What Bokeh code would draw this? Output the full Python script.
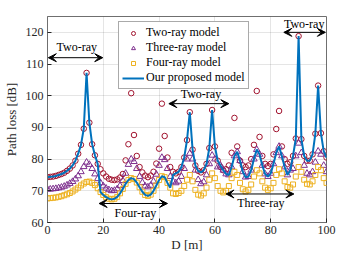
from bokeh.plotting import figure
from bokeh.models import (Legend, LegendItem, Arrow, VeeHead, Label,
                          FixedTicker, Range1d)
from bokeh.embed import file_html
from bokeh.resources import INLINE

# ---------------- data ----------------
D = list(range(0, 101))

two_ray = [74.3, 74.4, 74.5, 74.7, 75.0, 75.3, 75.7, 76.3, 77.0, 78.0,
           79.5, 81.7, 84.5, 89.6, 107.2, 91.5, 84.7, 81.2, 78.5, 76.8,
           75.5, 74.5, 73.8, 73.5, 73.4, 73.6, 74.2, 75.3, 79.6, 84.7,
           100.8, 87.6, 81.0, 77.5, 75.8, 74.8, 74.3, 74.8, 76.0, 78.6,
           83.3, 97.5, 87.3, 80.5, 77.5, 76.0, 75.5, 76.0, 77.5, 80.5,
           86.0, 94.8, 83.0, 78.0, 76.3, 75.8, 76.5, 78.5, 83.5, 95.5,
           84.0, 79.5, 77.5, 76.5, 76.8, 78.0, 82.0, 93.0, 84.0, 79.5,
           78.0, 77.5, 78.0, 80.0, 84.5, 101.5, 87.0, 81.0, 78.5, 77.8,
           78.5, 81.5, 89.5, 95.2, 84.0, 80.0, 78.5, 79.0, 81.0, 86.5,
           118.8, 86.3, 81.0, 79.5, 79.5, 81.5, 88.0, 103.2, 88.2, 82.5,
           80.5]

three_ray = [70.5, 70.5, 70.6, 70.7, 70.9, 71.1, 71.4, 71.8, 72.3, 72.9,
             73.7, 74.7, 76.0, 77.6, 79.0, 78.3, 77.0, 75.3, 73.8, 72.5,
             71.5, 70.8, 70.3, 70.0, 70.1, 70.6, 71.6, 73.2, 75.5, 78.3,
             80.0, 79.2, 77.0, 74.5, 72.6, 71.5, 71.2, 71.7, 73.0, 75.2,
             78.0, 80.5, 79.8, 77.0, 74.5, 73.0, 72.5, 73.0, 74.5, 77.0,
             80.0, 81.8, 80.0, 76.5, 73.5, 72.2, 72.8, 75.0, 78.5, 81.2,
             80.0, 77.5, 78.0, 76.5, 75.3, 75.0, 77.5, 81.0, 82.3, 79.5,
             76.0, 74.3, 74.5, 76.5, 80.0, 83.0, 81.5, 78.0, 75.3, 74.5,
             75.5, 78.5, 82.0, 84.0, 81.0, 77.5, 75.0, 76.5, 77.0, 81.0,
             85.0, 82.0, 78.0, 75.5, 75.0, 76.0, 79.0, 82.5, 81.5, 78.0,
             76.0]

four_ray = [67.6, 67.7, 67.8, 67.9, 68.1, 68.3, 68.6, 68.9, 69.3, 69.8,
            70.4, 71.0, 71.7, 72.3, 72.8, 72.9, 72.5, 71.8, 70.8, 69.6,
            68.7, 68.0, 67.5, 67.3, 67.5, 68.1, 69.2, 70.6, 72.2, 73.4,
            74.0, 73.7, 72.6, 71.1, 69.7, 68.7, 68.4, 68.8, 70.0, 71.7,
            73.4, 74.6, 74.3, 72.5, 71.0, 69.2, 69.0, 69.3, 70.0, 71.5,
            73.5, 75.0, 73.0, 70.3, 68.8, 68.5, 69.2, 71.0, 73.5, 75.5,
            74.0, 71.5, 70.0, 69.5, 70.0, 71.5, 74.0, 76.0, 75.0, 72.5,
            70.5, 69.8, 70.3, 72.0, 74.5, 76.5, 75.5, 73.0, 71.0, 70.3,
            70.8, 72.5, 75.0, 76.8, 75.5, 73.0, 71.2, 71.0, 72.0, 74.5,
            77.5, 76.0, 73.5, 72.2, 72.0, 73.0, 75.0, 77.5, 76.5, 74.0,
            72.5]

proposed = [74.3, 74.4, 74.5, 74.7, 75.0, 75.3, 75.7, 76.3, 77.0, 78.0,
            79.5, 81.7, 84.5, 89.6, 107.2, 91.5, 84.7, 81.2, 78.5, 69.6,
            68.7, 68.0, 67.5, 67.3, 67.5, 68.1, 69.2, 70.6, 72.2, 73.4,
            74.0, 73.7, 72.6, 71.1, 69.7, 68.7, 68.4, 68.8, 70.0, 71.7,
            73.4, 74.6, 74.3, 72.5, 71.0, 75.0, 75.5, 76.0, 77.5, 80.5,
            86.0, 94.8, 83.0, 78.0, 76.3, 75.8, 76.5, 78.5, 83.5, 95.5,
            84.0, 79.5, 78.0, 76.5, 75.3, 75.0, 77.5, 81.0, 82.3, 79.5,
            76.0, 74.3, 74.5, 76.5, 80.0, 83.0, 81.5, 78.0, 75.3, 74.5,
            75.5, 78.5, 82.0, 84.0, 81.0, 77.5, 75.0, 76.5, 81.0, 86.5,
            118.8, 86.3, 81.0, 79.5, 79.5, 81.5, 88.0, 103.2, 88.2, 82.5,
            80.5]

x_ticks = [0, 20, 40, 60, 80, 100]
y_ticks = [60, 70, 80, 90, 100, 110, 120]

# region annotations: (text, x_start, x_end, arrow_y, text_x, text_y)
regions = [
    ("Two-ray", 0.3, 19.8, 112.0, 10.5, 115.5),
    ("Four-ray", 18.5, 43.0, 66.0, 31.5, 63.0),
    ("Two-ray", 43.5, 65.0, 97.5, 55.0, 100.5),
    ("Three-ray", 64.0, 88.3, 69.0, 76.5, 66.0),
    ("Two-ray", 84.7, 99.6, 120.0, 92.0, 122.6),
]

FONT = "Liberation Serif"
RED = "#A2142F"
PURPLE = "#7E2F8E"
YELLOW = "#EDB120"
BLUE = "#0072BD"
AXC = "#262626"
BOX = "#6f6f6f"

p = figure(width=344, height=254, output_backend="svg", toolbar_location=None,
           x_range=Range1d(0, 100), y_range=Range1d(60, 125),
           min_border_left=47, min_border_right=18, min_border_top=16,
           min_border_bottom=29)

p.outline_line_color = BOX
p.outline_line_width = 1

for ax in (p.xaxis[0], p.yaxis[0]):
    ax.axis_line_color = BOX
    ax.major_tick_line_color = AXC
    ax.major_tick_in = 4
    ax.major_tick_out = 0
    ax.minor_tick_line_color = None
    ax.major_label_text_font = FONT
    ax.major_label_text_font_size = "12px"
    ax.major_label_text_color = AXC
    ax.major_label_text_line_height = 1.0
    ax.axis_label_text_font = FONT
    ax.axis_label_text_font_size = "13px"
    ax.axis_label_text_font_style = "normal"
    ax.axis_label_text_color = AXC
    ax.axis_label_text_line_height = 1.0

p.xaxis.ticker = FixedTicker(ticks=x_ticks)
p.yaxis.ticker = FixedTicker(ticks=y_ticks)
p.xaxis.axis_label = "D [m]"
p.yaxis.axis_label = "Path loss [dB]"
p.xaxis.major_label_standoff = 3
p.xaxis.axis_label_standoff = 0
p.yaxis.major_label_standoff = 4
p.yaxis.axis_label_standoff = 4

p.xgrid.ticker = FixedTicker(ticks=x_ticks)
p.ygrid.ticker = FixedTicker(ticks=y_ticks)
p.grid.grid_line_color = AXC
p.grid.grid_line_alpha = 0.12

r_two = p.scatter(D, two_ray, marker="circle", size=5.5, fill_color=None,
                  line_color=RED, line_width=1)
r_three = p.scatter(D, three_ray, marker="triangle", size=6.5, fill_color=None,
                    line_color=PURPLE, line_width=1)
r_four = p.scatter(D, four_ray, marker="square", size=5, fill_color=None,
                   line_color=YELLOW, line_width=1)
r_prop = p.line(D, proposed, line_color=BLUE, line_width=2)

for text, xs, xe, ya, tx, ty in regions:
    p.add_layout(Arrow(x_start=xs, y_start=ya, x_end=xe, y_end=ya,
                       line_color="black", line_width=1,
                       start=VeeHead(size=8, fill_color="black", line_color="black", line_width=1),
                       end=VeeHead(size=8, fill_color="black", line_color="black", line_width=1)))
    p.add_layout(Label(x=tx, y=ty, text=text, text_align="center",
                       text_baseline="middle", text_font=FONT,
                       text_font_size="12px", text_color="black"))

legend = Legend(items=[
    LegendItem(label="Two-ray model", renderers=[r_two]),
    LegendItem(label="Three-ray model", renderers=[r_three]),
    LegendItem(label="Four-ray model", renderers=[r_four]),
    LegendItem(label="Our proposed model", renderers=[r_prop]),
], location=(71, 133), label_text_font=FONT, label_text_font_size="12px",
    label_text_color="black", label_text_line_height=1.0,
    glyph_width=22, glyph_height=10, label_height=10, label_standoff=2,
    spacing=-2, padding=3, margin=0, border_line_color="#555555",
    border_line_width=1, background_fill_color="white",
    background_fill_alpha=1)
p.add_layout(legend, "center")

open("out.html", "w").write(file_html(p, INLINE))
